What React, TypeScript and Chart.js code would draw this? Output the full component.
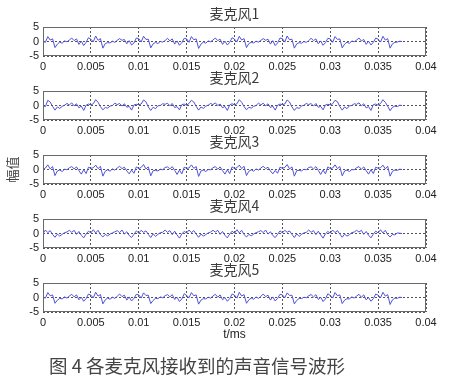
import React, { useEffect, useRef } from "react";
import { Chart, registerables } from "chart.js";

Chart.register(...registerables);

// ---------- data ----------
const DT = 0.00025; // sample spacing along t
const TITLES = ["麦克风1", "麦克风2", "麦克风3", "麦克风4", "麦克风5"];
const X_TICKS = [0, 0.005, 0.01, 0.015, 0.02, 0.025, 0.03, 0.035, 0.04];
const X_TICK_LABELS = ["0", "0.005", "0.01", "0.015", "0.02", "0.025", "0.03", "0.035", "0.04"];
const Y_TICKS = [-5, 0, 5];
const Y_TICK_LABELS = ["-5", "0", "5"];
const X_TITLE = "t/ms";
const Y_TITLE = "幅值";
const CAPTION = "图 4 各麦克风接收到的声音信号波形";

const MIC1 = [
  0.1, -0.3, 1.7, 0.5, 0.9, -2.1, -0.9, -0.2, -0.6, 0.2, -0.1, 0.5, 1.2, 0.3, 0.9, -1.0, 0.1, -1.4, -0.3, 1.3,
  0.8, -0.1, 1.9, 0.4, 1.0, -2.3, -0.7, -0.4, -0.5, 0.1, -0.3, 0.4, 1.0, 0.4, 0.7, -0.8, 0.3, -1.2, -0.5, 1.2,
  1.0, -0.2, 1.8, 0.7, 0.8, -2.2, -0.8, -0.3, -0.7, 0.0, -0.2, 0.3, 1.1, 0.2, 0.9, -0.9, 0.2, -1.3, -0.4, 1.1,
  0.9, -0.3, 1.7, 0.6, 0.9, -2.4, -0.9, -0.2, -0.6, 0.2, -0.1, 0.5, 1.2, 0.3, 0.8, -1.0, 0.1, -1.2, -0.3, 1.3,
  0.8, -0.1, 1.8, 0.5, 1.0, -2.1, -0.7, -0.3, -0.5, 0.1, -0.2, 0.4, 1.0, 0.4, 0.8, -0.9, 0.3, -1.4, -0.5, 1.2,
  1.0, -0.2, 1.9, 0.6, 0.8, -2.3, -0.8, -0.4, -0.6, 0.0, -0.3, 0.3, 1.1, 0.3, 0.9, -0.8, 0.2, -1.3, -0.4, 1.1,
  0.9, -0.3, 1.7, 0.7, 0.9, -2.2, -0.9, -0.2, -0.7, 0.2, -0.1, 0.5, 1.2, 0.2, 0.7, -1.0, 0.1, -1.2, -0.3, 1.2,
  0.8, -0.2, 1.8, 0.5, 1.0, -2.3, -0.8, -0.3, -0.2, 0.1, 0.0,
];

const MIC2 = [
  0.0, -0.4, 1.8, 1.2, -0.3, -1.6, -0.5, -1.0, -0.3, 0.1, 0.7, 0.2, 0.9, -0.1, 0.6, -0.8, -0.2, -1.7, 0.1, 0.5,
  0.2, 0.6, 2.0, 1.1, -0.4, -1.5, -0.7, -0.9, -0.2, 0.0, 0.8, 0.3, 0.7, -0.2, 0.6, -0.6, -0.3, -1.6, 0.2, 0.4,
  0.3, 0.5, 1.9, 1.3, -0.5, -1.7, -0.6, -1.1, -0.1, 0.0, 0.6, 0.4, 0.8, -0.1, 0.7, -0.7, -0.4, -1.5, 0.3, 0.5,
  0.1, 0.7, 1.8, 1.2, -0.3, -1.6, -0.5, -1.0, -0.2, 0.1, 0.7, 0.3, 0.9, 0.0, 0.5, -0.8, -0.3, -1.7, 0.2, 0.6,
  0.2, 0.6, 2.0, 1.1, -0.4, -1.5, -0.6, -0.9, -0.3, 0.0, 0.8, 0.2, 0.8, -0.1, 0.6, -0.7, -0.2, -1.6, 0.1, 0.5,
  0.3, 0.5, 1.9, 1.2, -0.5, -1.7, -0.7, -1.0, -0.2, 0.1, 0.7, 0.3, 0.7, -0.2, 0.7, -0.6, -0.3, -1.5, 0.2, 0.4,
  0.2, 0.6, 1.8, 1.3, -0.4, -1.6, -0.5, -1.1, -0.1, 0.0, 0.6, 0.4, 0.9, -0.1, 0.6, -0.8, -0.4, -1.7, 0.3, 0.5,
  0.1, 0.7, 2.0, 1.1, -0.3, -1.8, -0.6, -0.2, -0.4, 0.1, 0.0,
];

const MIC3 = [
  0.0, 0.5, 1.6, 0.2, 1.0, -2.1, -0.5, -0.2, -0.7, 0.1, -0.1, 0.6, 1.0, 0.2, 0.9, -0.4, -1.6, -0.1, -1.4, 0.8,
  0.4, 0.6, 1.5, 0.3, 1.1, -2.3, -0.6, -0.1, -0.6, 0.2, -0.2, 0.5, 1.1, 0.3, 0.8, -0.5, -1.5, -0.2, -1.3, 0.9,
  0.3, 0.7, 1.7, 0.2, 0.9, -2.2, -0.4, -0.3, -0.5, 0.1, -0.1, 0.7, 0.9, 0.2, 1.0, -0.3, -1.7, -0.2, -1.5, 0.8,
  0.4, 0.5, 1.6, 0.4, 1.0, -2.4, -0.5, -0.2, -0.7, 0.0, -0.1, 0.6, 1.0, 0.1, 0.9, -0.4, -1.6, -0.1, -1.4, 0.9,
  0.3, 0.6, 1.5, 0.3, 1.1, -2.1, -0.6, -0.1, -0.6, 0.2, -0.2, 0.5, 1.1, 0.3, 0.8, -0.5, -1.5, -0.3, -1.3, 0.8,
  0.4, 0.7, 1.7, 0.2, 0.9, -2.3, -0.4, -0.3, -0.5, 0.1, -0.1, 0.7, 0.9, 0.2, 1.0, -0.3, -1.7, -0.2, -1.5, 0.9,
  0.3, 0.5, 1.6, 0.3, 1.0, -2.2, -0.5, -0.2, -0.7, 0.0, -0.1, 0.6, 1.0, 0.1, 0.9, -0.4, -1.6, -0.1, -1.4, 0.8,
  0.4, 0.6, 1.5, 0.2, 1.1, -2.3, -0.6, -0.2, -0.3, 0.1, 0.0,
];

const MIC4 = [
  0.0, 1.2, 0.3, 1.0, -0.3, -1.3, -0.2, -0.9, -0.3, 0.3, 0.5, 1.1, 0.4, 1.1, -0.3, 0.7, -0.6, -1.5, -0.2, 0.8,
  0.2, 1.3, 0.2, 1.1, -0.4, -1.2, -0.3, -0.8, -0.2, 0.2, 0.6, 1.0, 0.3, 1.2, -0.2, 0.6, -0.7, -1.4, -0.3, 0.9,
  0.1, 1.1, 0.4, 0.9, -0.3, -1.4, -0.1, -1.0, -0.3, 0.3, 0.4, 1.2, 0.4, 1.0, -0.4, 0.8, -0.5, -1.6, -0.1, 0.7,
  0.2, 1.2, 0.3, 1.0, -0.2, -1.3, -0.2, -0.9, -0.4, 0.2, 0.5, 1.1, 0.5, 1.1, -0.3, 0.7, -0.6, -1.5, -0.2, 0.8,
  0.1, 1.3, 0.2, 1.1, -0.4, -1.2, -0.3, -0.8, -0.2, 0.3, 0.6, 1.0, 0.3, 1.2, -0.2, 0.6, -0.7, -1.4, -0.3, 0.9,
  0.2, 1.1, 0.4, 0.9, -0.3, -1.4, -0.1, -1.0, -0.3, 0.2, 0.4, 1.2, 0.4, 1.0, -0.4, 0.8, -0.5, -1.6, -0.1, 0.7,
  0.1, 1.2, 0.3, 1.0, -0.2, -1.3, -0.2, -0.9, -0.4, 0.3, 0.5, 1.1, 0.5, 1.1, -0.3, 0.7, -0.6, -1.5, -0.2, 0.8,
  0.2, 1.3, 0.2, 1.1, -0.4, -1.2, -0.3, -0.5, 0.2, 0.1, 0.0,
];

const MIC5 = [
  0.0, -0.2, 1.7, 0.6, 0.9, -2.0, -0.9, -0.3, -0.5, 0.2, -0.2, 0.5, 1.1, 0.2, 0.9, -0.8, 0.1, -1.3, -0.4, 1.2,
  0.8, -0.1, 1.8, 0.5, 1.0, -2.2, -0.8, -0.2, -0.6, 0.1, -0.3, 0.4, 1.2, 0.3, 0.8, -0.9, 0.2, -1.2, -0.3, 1.1,
  0.9, -0.2, 1.6, 0.7, 0.8, -2.1, -1.0, -0.3, -0.4, 0.2, -0.1, 0.6, 1.0, 0.2, 1.0, -0.7, 0.1, -1.4, -0.5, 1.3,
  0.7, -0.1, 1.7, 0.6, 0.9, -2.3, -0.9, -0.4, -0.5, 0.1, -0.2, 0.5, 1.1, 0.1, 0.9, -0.8, 0.0, -1.3, -0.4, 1.2,
  0.8, -0.2, 1.8, 0.5, 1.0, -2.0, -0.8, -0.2, -0.6, 0.2, -0.3, 0.4, 1.2, 0.3, 0.8, -0.9, 0.2, -1.2, -0.3, 1.1,
  0.9, -0.1, 1.6, 0.7, 0.8, -2.2, -1.0, -0.3, -0.4, 0.1, -0.1, 0.6, 1.0, 0.2, 1.0, -0.7, 0.1, -1.4, -0.5, 1.3,
  0.7, -0.2, 1.7, 0.6, 0.9, -2.1, -0.9, -0.4, -0.5, 0.2, -0.2, 0.5, 1.1, 0.1, 0.9, -0.8, 0.0, -1.3, -0.4, 1.2,
  0.8, -0.1, 1.8, 0.5, 1.0, -2.4, -0.8, -0.2, -0.3, 0.1, 0.0,
];

const SERIES = [MIC1, MIC2, MIC3, MIC4, MIC5];

// ---------- layout / style ----------
const W = 454;
const CH = 90; // canvas height of each panel
const STEP = 64; // vertical distance between panels
const AREA_BOTTOM = 56;
const AREA_LEFT = 43;
const RIGHT_PAD = 28;
const LATIN = "Arial, 'Liberation Sans', 'Noto Sans CJK SC', sans-serif";
const CJK = "'Noto Sans CJK SC', 'Liberation Sans', sans-serif";

const boxPlugin = {
  id: "matlabBox",
  afterDraw(chart: any) {
    const { ctx, chartArea: a } = chart;
    ctx.save();
    ctx.strokeStyle = "#6a6a6a";
    ctx.lineWidth = 1;
    const l = Math.round(a.left) + 0.5;
    const t = Math.round(a.top) + 0.5;
    const r = Math.round(a.right) - 0.5;
    const b = Math.round(a.bottom) - 0.5;
    ctx.strokeRect(l, t, r - l, b - t);
    ctx.restore();
  },
};

function Panel({ index }: { index: number }) {
  const ref = useRef<HTMLCanvasElement | null>(null);
  useEffect(() => {
    if (!ref.current) return;
    const values = SERIES[index];
    const chart = new Chart(ref.current, {
      type: "line",
      data: {
        datasets: [
          {
            data: values.map((v, j) => ({ x: j * DT, y: v })),
            borderColor: "#5050dc",
            borderWidth: 1,
            pointRadius: 0,
            fill: false,
            tension: 0,
          },
        ],
      },
      options: {
        animation: false,
        responsive: false,
        events: [],
        layout: { padding: { left: 0, right: RIGHT_PAD, top: 0, bottom: 0 } },
        plugins: {
          legend: { display: false },
          tooltip: { enabled: false },
          title: {
            display: true,
            text: TITLES[index],
            fullSize: false,
            color: "#3a3a3a",
            font: { family: CJK, size: 14, lineHeight: 1.2, weight: "normal" },
            padding: { top: 5, bottom: 5.2 },
          },
        },
        scales: {
          x: {
            type: "linear",
            min: 0,
            max: 0.04,
            afterBuildTicks: (s: any) => {
              s.ticks = X_TICKS.map((v) => ({ value: v }));
            },
            afterFit: (s: any) => {
              s.height = CH - AREA_BOTTOM;
            },
            ticks: {
              callback: (_v: any, i: number) => X_TICK_LABELS[i],
              autoSkip: false,
              maxRotation: 0,
              padding: 4,
              color: "#222",
              font: { family: LATIN, size: 11 },
            },
            grid: { color: "#555", lineWidth: 1, drawTicks: false },
            border: { display: false, dash: [2, 2] },
            title: {
              display: index === 4,
              text: X_TITLE,
              color: "#222",
              font: { family: LATIN, size: 12, lineHeight: 1.2 },
              padding: { top: 0, bottom: 3.8 },
            },
          },
          y: {
            type: "linear",
            min: -5,
            max: 5,
            afterBuildTicks: (s: any) => {
              s.ticks = Y_TICKS.map((v) => ({ value: v }));
            },
            afterFit: (s: any) => {
              s.width = AREA_LEFT;
            },
            ticks: {
              callback: (_v: any, i: number) => Y_TICK_LABELS[i],
              autoSkip: false,
              padding: 4,
              color: "#222",
              font: { family: LATIN, size: 11 },
            },
            grid: { color: "#555", lineWidth: 1, drawTicks: false },
            border: { display: false, dash: [2, 2] },
            title: {
              display: index === 2,
              text: Y_TITLE,
              color: "#444",
              font: { family: CJK, size: 13, lineHeight: 1.2 },
              padding: { top: 4.2, bottom: 0 },
            },
          },
        },
      },
      plugins: [boxPlugin],
    });
    return () => chart.destroy();
  }, [index]);
  return (
    <canvas
      ref={ref}
      width={W}
      height={CH}
      style={{ position: "absolute", left: 0, top: index * STEP, width: W, height: CH }}
    />
  );
}

export default function App() {
  return (
    <div
      style={{
        position: "fixed",
        left: 0,
        top: 0,
        width: W,
        height: 378,
        background: "#fff",
        overflow: "hidden",
      }}
    >
      {SERIES.map((_, i) => (
        <Panel key={i} index={i} />
      ))}
      <div
        style={{
          position: "absolute",
          left: 49,
          top: 356,
          fontFamily: CJK,
          fontSize: 18.5,
          lineHeight: 1,
          color: "#444",
          whiteSpace: "nowrap",
        }}
      >
        {CAPTION}
      </div>
    </div>
  );
}
